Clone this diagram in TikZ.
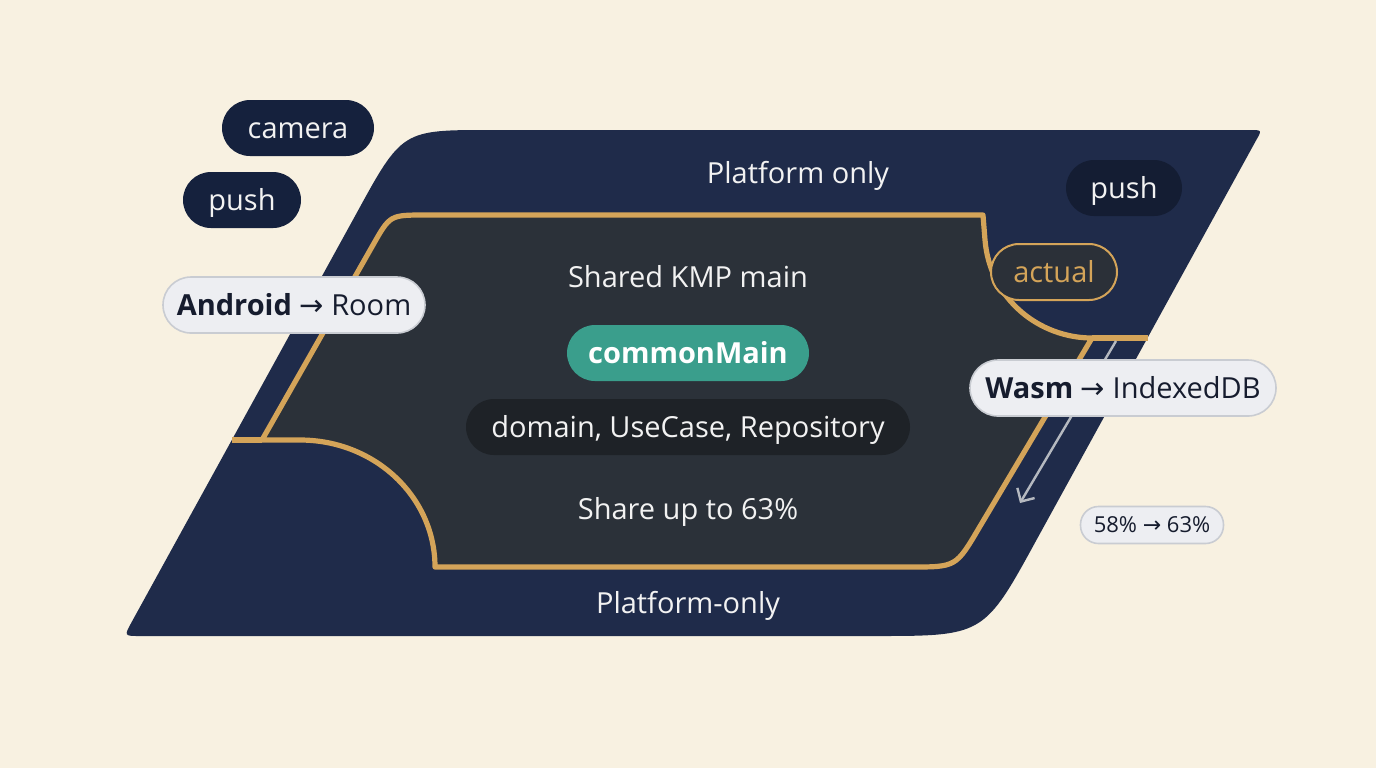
\documentclass[tikz,border=0pt]{standalone}
\usepackage{fontspec}
\setmainfont{Open Sans}
\newfontfamily\symf{DejaVu Sans}
\usetikzlibrary{arrows.meta}
\definecolor{bgc}{HTML}{F8F1E1}
\definecolor{navy}{HTML}{1F2B4A}
\definecolor{innerc}{HTML}{2B3139}
\definecolor{gold}{HTML}{D4A459}
\definecolor{teal}{HTML}{3A9E8C}
\definecolor{domfill}{HTML}{1E2227}
\definecolor{pushdark}{HTML}{141D33}
\definecolor{campill}{HTML}{15213D}
\definecolor{lightpill}{HTML}{EDEEF2}
\definecolor{lightborder}{HTML}{C9CCD2}
\definecolor{textdark}{HTML}{161C2E}
\definecolor{arrowgray}{HTML}{B5B9C0}
\definecolor{actualfill}{HTML}{2B3038}
\definecolor{whitetext}{HTML}{F2F2F2}
\newcommand{\arr}{{\symf →}}
\tikzset{
  basefont/.style={font=\fontsize{14.5}{17}\selectfont, text height=10.5pt, text depth=0.5pt},
  pill/.style={basefont, rounded corners=14pt, minimum height=28pt, inner sep=0pt, align=center},
  darkpill/.style={pill, fill=campill, text=whitetext},
  lightpillst/.style={pill, fill=lightpill, draw=lightborder, line width=0.8pt, text=textdark},
  label/.style={basefont, text=whitetext, inner sep=0pt},
  goldline/.style={draw=gold, line width=2.6pt, line join=round},
}
\begin{document}
\begin{tikzpicture}[x=0.5pt,y=-0.5pt]
\useasboundingbox (0,0) rectangle (1376,768);
\fill[bgc] (0,0) rectangle (1376,768);
% outer platform shape
\fill[navy] (355.6,215) .. controls (402,130) .. (490,130) -- (1250,130)
  .. controls (1262,130) .. (1256,140.5) -- (1037,539)
  .. controls (984,636) .. (874,636) -- (140,636)
  .. controls (124,636) .. (131.7,622) -- cycle;
% inner shared shape
\path[fill=innerc, goldline] (262,440) -- (373,245) .. controls (390,215) .. (425,215)
  -- (983,215) -- (985,240) .. controls (990,300) and (1040,338) .. (1092,338)
  -- (979,528) .. controls (956,567) .. (911,567) -- (435,567)
  .. controls (435,497) and (375,440) .. (300,440) -- cycle;
\draw[goldline] (232,440) -- (262,440);
\draw[goldline] (1092,338) -- (1148,338);
% arrow
\coordinate (arrS) at (1116,341);
\coordinate (arrE) at (1020,503);
\draw[arrowgray, line width=1.2pt, -{Straight Barb[length=5pt,width=10pt]}] (arrS) -- (arrE);
% labels
\node[label] (ptop) at (798,173) {Platform only};
\node[label] (pbot) at (688,603) {Platform-only};
\node[label] (shared) at (688,277) {Shared KMP main};
\node[label] (share) at (688,509) {Share up to 63\%};
% pills
\node[darkpill, minimum width=76pt] (camera) at (298,128) {camera};
\node[darkpill, minimum width=59pt] (pushl) at (242,200) {push};
\node[pill, fill=pushdark, text=whitetext, minimum width=58pt] (pushr) at (1124,188) {push};
\node[pill, fill=actualfill, draw=gold, line width=1pt, text=gold, minimum width=63pt] (actual) at (1054,272) {actual};
\node[pill, fill=teal, text=white, minimum width=121pt, font=\fontsize{14.5}{17}\selectfont\bfseries] (common) at (688,353) {commonMain};
\node[pill, fill=domfill, text=whitetext, minimum width=222pt] (domain) at (688,427) {domain, UseCase, Repository};
\node[lightpillst, minimum width=131pt] (android) at (294,305) {\textbf{Android} \arr{} Room};
\node[lightpillst, minimum width=153pt] (wasm) at (1123,388) {\textbf{Wasm} \arr{} IndexedDB};
\node[lightpillst, minimum width=71.5pt, minimum height=18.5pt, rounded corners=9pt, font=\fontsize{11}{13}\selectfont, text height=8pt, text depth=0.4pt] (pct) at (1152,525) {58\% \arr{} 63\%};
\end{tikzpicture}
\end{document}
